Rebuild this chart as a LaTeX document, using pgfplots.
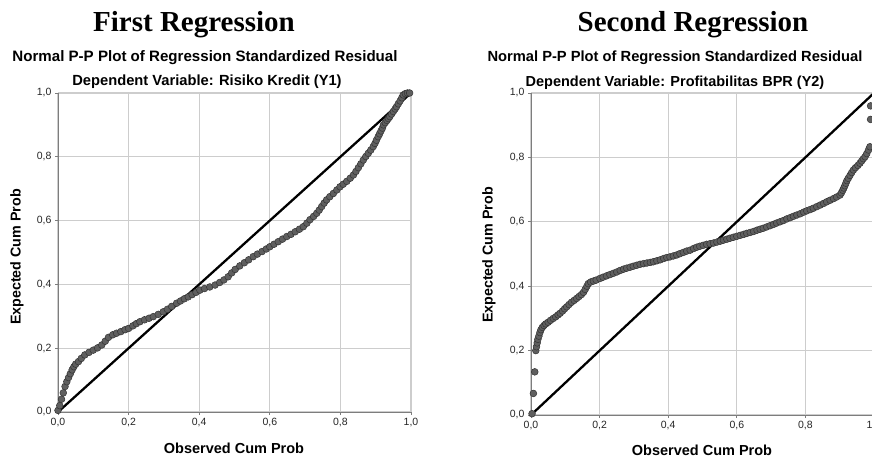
\documentclass[border=0pt]{standalone}
\usepackage{fontspec}
\setmainfont{Liberation Sans}
\newfontfamily\titlefont{Liberation Serif}
\usepackage{pgfplots}
\pgfplotsset{compat=1.18}

\definecolor{axisgray}{RGB}{125,125,125}
\definecolor{gridgray}{RGB}{205,205,205}
\definecolor{markfill}{RGB}{95,95,95}

\pgfplotsset{
  ppplot/.style={
    scale only axis,
    xmin=0, xmax=1, ymin=0, ymax=1,
    axis lines*=left,
    axis line style={draw=axisgray, line width=1pt},
    xtick={0,0.2,0.4,0.6,0.8,1},
    ytick={0,0.2,0.4,0.6,0.8,1},
    tick align=outside,
    major tick length=3pt,
    tick style={draw=axisgray, line width=0.8pt},
    grid=major,
    grid style={draw=gridgray, line width=1.1pt},
    tick label style={font=\fontsize{10.5}{12}\selectfont, text=black!85},
    /pgf/number format/.cd, use comma, fixed, fixed zerofill, precision=1,
    assume math mode=true,
    /pgfplots/.cd,
    clip=false,
  },
  ppmarks/.style={
    only marks, mark=*, mark size=3.4pt,
    mark options={fill=markfill, draw=black!80, line width=0.5pt},
  },
  ppline/.style={black, line width=2.3pt},
}

\begin{document}
\begin{tikzpicture}[x=1pt, y=1pt]
\useasboundingbox (0,0) rectangle (872,458);
\clip (0,0) rectangle (872,458);

% ---------- First Regression ----------
\begin{axis}[ppplot, at={(58pt,46pt)}, anchor=south west, width=353pt, height=319pt]
\addplot[ppmarks] coordinates {
(0.000,0.005) (0.005,0.020) (0.010,0.040) (0.015,0.060) (0.020,0.080)
(0.025,0.095) (0.030,0.108) (0.035,0.120) (0.040,0.132) (0.045,0.142)
(0.050,0.150) (0.058,0.158) (0.066,0.168) (0.076,0.179) (0.088,0.187)
(0.100,0.194) (0.112,0.201) (0.124,0.210) (0.134,0.222) (0.143,0.234)
(0.155,0.242) (0.166,0.247) (0.178,0.252) (0.190,0.258) (0.200,0.262)
(0.212,0.270) (0.222,0.277) (0.232,0.283) (0.245,0.289) (0.258,0.294)
(0.270,0.299) (0.284,0.306) (0.298,0.314) (0.310,0.322) (0.322,0.331)
(0.336,0.341) (0.347,0.348) (0.358,0.355) (0.369,0.361) (0.380,0.368)
(0.391,0.375) (0.402,0.382) (0.415,0.387) (0.430,0.392) (0.445,0.398)
(0.458,0.406) (0.470,0.414) (0.482,0.424) (0.492,0.436) (0.502,0.447)
(0.515,0.458) (0.528,0.468) (0.540,0.477) (0.553,0.487) (0.565,0.495)
(0.578,0.503) (0.590,0.511) (0.600,0.518) (0.612,0.526) (0.624,0.534)
(0.636,0.542) (0.648,0.550) (0.660,0.557) (0.672,0.565) (0.684,0.573)
(0.695,0.581) (0.705,0.592) (0.714,0.603) (0.724,0.613) (0.733,0.623)
(0.740,0.633) (0.747,0.644) (0.754,0.655) (0.761,0.665) (0.770,0.675)
(0.780,0.685) (0.790,0.696) (0.799,0.706) (0.808,0.714) (0.818,0.723)
(0.828,0.733) (0.837,0.743) (0.844,0.754) (0.851,0.766) (0.858,0.778)
(0.865,0.790) (0.872,0.801) (0.879,0.811) (0.886,0.821) (0.893,0.832)
(0.898,0.842) (0.902,0.852) (0.907,0.863) (0.911,0.872) (0.915,0.881)
(0.919,0.890) (0.922,0.900) (0.927,0.907) (0.932,0.914) (0.936,0.920)
(0.940,0.926) (0.945,0.934) (0.950,0.942) (0.955,0.950) (0.959,0.957)
(0.964,0.966) (0.969,0.975) (0.974,0.985) (0.978,0.994) (0.984,0.998)
(0.990,1.000) (0.996,1.000)
};
\addplot[ppline] coordinates {(0,0) (1,1)};
\end{axis}

% ---------- Second Regression ----------
\begin{axis}[ppplot, at={(531pt,43pt)}, anchor=south west, width=343pt, height=322pt]
\addplot[ppmarks] coordinates {
(0.003,0.004) (0.007,0.067) (0.011,0.134) (0.014,0.200) (0.016,0.212)
(0.018,0.224) (0.020,0.235) (0.023,0.245) (0.026,0.256) (0.029,0.265)
(0.033,0.272) (0.038,0.278) (0.043,0.283) (0.050,0.288) (0.057,0.294)
(0.065,0.300) (0.072,0.305) (0.079,0.311) (0.085,0.316) (0.092,0.323)
(0.098,0.330) (0.104,0.336) (0.111,0.343) (0.118,0.350) (0.126,0.356)
(0.133,0.362) (0.140,0.368) (0.147,0.374) (0.153,0.381) (0.158,0.390)
(0.163,0.400) (0.167,0.408) (0.174,0.413) (0.182,0.416) (0.190,0.419)
(0.201,0.424) (0.210,0.428) (0.220,0.432) (0.230,0.436) (0.240,0.440)
(0.250,0.444) (0.260,0.449) (0.270,0.453) (0.279,0.456) (0.289,0.459)
(0.298,0.462) (0.308,0.465) (0.318,0.468) (0.328,0.470) (0.338,0.472)
(0.348,0.474) (0.357,0.476) (0.367,0.479) (0.377,0.482) (0.387,0.486)
(0.396,0.489) (0.405,0.491) (0.415,0.494) (0.425,0.497) (0.434,0.501)
(0.444,0.505) (0.454,0.509) (0.464,0.512) (0.474,0.517) (0.483,0.521)
(0.492,0.524) (0.502,0.527) (0.512,0.530) (0.522,0.532) (0.532,0.534)
(0.542,0.537) (0.552,0.540) (0.561,0.543) (0.571,0.546) (0.580,0.549)
(0.590,0.552) (0.600,0.555) (0.610,0.558) (0.620,0.561) (0.629,0.564)
(0.639,0.567) (0.649,0.570) (0.659,0.574) (0.668,0.577) (0.677,0.580)
(0.687,0.584) (0.697,0.588) (0.707,0.592) (0.716,0.596) (0.726,0.600)
(0.736,0.604) (0.746,0.609) (0.756,0.613) (0.765,0.617) (0.775,0.621)
(0.785,0.625) (0.795,0.630) (0.804,0.634) (0.814,0.638) (0.823,0.642)
(0.833,0.647) (0.843,0.652) (0.853,0.657) (0.862,0.662) (0.872,0.667)
(0.882,0.672) (0.891,0.677) (0.901,0.683) (0.905,0.690) (0.909,0.698)
(0.912,0.705) (0.915,0.712) (0.918,0.720) (0.921,0.728) (0.925,0.735)
(0.930,0.744) (0.935,0.753) (0.940,0.761) (0.946,0.768) (0.953,0.775)
(0.959,0.782) (0.964,0.789) (0.969,0.796) (0.974,0.802) (0.979,0.812)
(0.984,0.823) (0.988,0.833) (0.990,0.918) (0.990,0.960)
};
\addplot[ppline] coordinates {(0,0) (1,1)};
\end{axis}

% titles and labels
\node[anchor=base, font=\titlefont\bfseries\fontsize{29}{32}\selectfont] at (194,426) {First Regression};
\node[anchor=base, font=\titlefont\bfseries\fontsize{29}{32}\selectfont] at (693,426) {Second Regression};
\node[anchor=base, font=\bfseries\fontsize{15.1}{17}\selectfont] at (205,396) {Normal P-P Plot of Regression Standardized Residual};
\node[anchor=base, font=\bfseries\fontsize{14.7}{17}\selectfont] at (675,396) {Normal P-P Plot of Regression Standardized Residual};
\node[anchor=base, font=\bfseries\fontsize{14.7}{17}\selectfont] at (207,372) {Dependent Variable: Risiko Kredit (Y1)};
\node[anchor=base, font=\bfseries\fontsize{14.5}{17}\selectfont] at (675,371) {Dependent Variable: Profitabilitas BPR (Y2)};
\node[anchor=base, font=\bfseries\fontsize{14.5}{17}\selectfont] at (234,5) {Observed Cum Prob};
\node[anchor=base, font=\bfseries\fontsize{14.5}{17}\selectfont] at (702,3) {Observed Cum Prob};
\node[rotate=90, font=\bfseries\fontsize{14.3}{17}\selectfont] at (17,201) {Expected Cum Prob};
\node[rotate=90, font=\bfseries\fontsize{14.3}{17}\selectfont] at (489,203) {Expected Cum Prob};
\end{tikzpicture}
\end{document}
